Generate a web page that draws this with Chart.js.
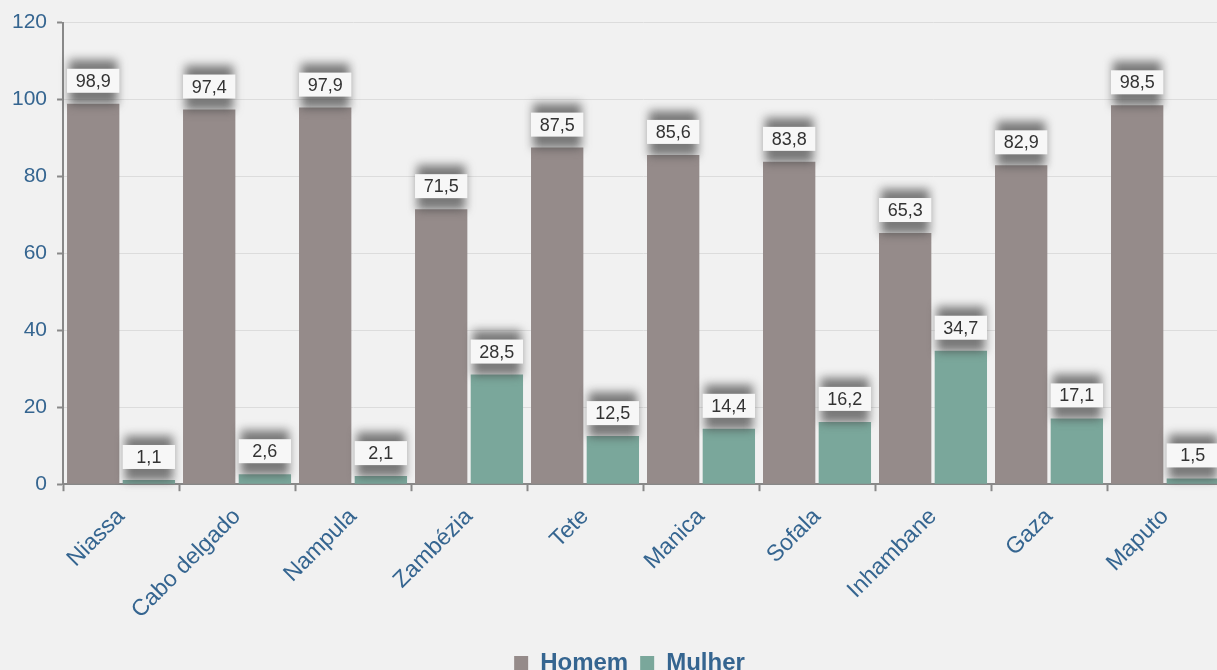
<!DOCTYPE html>
<html>
<head>
<meta charset="utf-8">
<script src="https://cdn.jsdelivr.net/npm/chart.js@4"></script>
<style>
  html, body { margin: 0; padding: 0; background: #f1f1f1; overflow: hidden; }
  #wrap { width: 1256px; height: 685px; }
</style>
</head>
<body>
<div id="wrap"><canvas id="grafico"></canvas></div>
<script>
const provincias = ["Niassa", "Cabo delgado", "Nampula", "Zambézia", "Tete", "Manica", "Sofala", "Inhambane", "Gaza", "Maputo"];
const homem = [98.9, 97.4, 97.9, 71.5, 87.5, 85.6, 83.8, 65.3, 82.9, 98.5];
const mulher = [1.1, 2.6, 2.1, 28.5, 12.5, 14.4, 16.2, 34.7, 17.1, 1.5];

const AZUL = "#356590";
const FONTE = "'Liberation Sans', Arial";

// caixas com valores por cima das barras
const etiquetas = {
  id: "etiquetas",
  afterLayout(chart) {
    // legenda um pouco mais à direita, como no original
    chart.legend.left += 17;
    chart.legend.right += 17;
  },
  afterDatasetsDraw(chart) {
    const ctx = chart.ctx;
    chart.data.datasets.forEach((ds, i) => {
      chart.getDatasetMeta(i).data.forEach((bar, j) => {
        const w = bar.width, h = 24;
        const x = bar.x - w / 2, y = bar.y - 11 - h;
        // sombra desfocada
        ctx.save();
        ctx.filter = "blur(5px)";
        ctx.fillStyle = "rgba(70,70,70,0.7)";
        ctx.fillRect(x + 2, y - 9, w - 4, bar.y - y + 10);
        ctx.restore();
        ctx.fillStyle = "#f7f7f7";
        ctx.fillRect(x, y, w, h);
        ctx.fillStyle = "#333";
        ctx.font = "18px " + FONTE;
        ctx.textAlign = "center";
        ctx.textBaseline = "middle";
        ctx.fillText(ds.data[j].toFixed(1).replace(".", ","), bar.x, y + h / 2 + 1);
      });
    });
  }
};

new Chart(document.getElementById("grafico"), {
  type: "bar",
  data: {
    labels: provincias,
    datasets: [
      { label: "Homem", data: homem, backgroundColor: "#958b8a" },
      { label: "Mulher", data: mulher, backgroundColor: "#7aa79b" }
    ]
  },
  options: {
    responsive: true,
    maintainAspectRatio: false,
    animation: false,
    datasets: { bar: { categoryPercentage: 0.96, barPercentage: 0.94 } },
    layout: { padding: { top: 13, left: 2, right: 33, bottom: 0 } },
    plugins: {
      legend: {
        position: "bottom",
        labels: {
          color: AZUL,
          font: { family: FONTE, size: 24, weight: "bold" },
          boxWidth: 14, boxHeight: 14, padding: 12
        }
      },
      tooltip: { enabled: false }
    },
    scales: {
      x: {
        afterFit: s => { s.height += 3; },
        grid: { drawOnChartArea: false, tickLength: 7, tickColor: "#888", tickWidth: 2 },
        border: { color: "#888", width: 2 },
        ticks: {
          color: AZUL, maxRotation: 45, minRotation: 45, padding: 12,
          font: { family: FONTE, size: 23 }
        }
      },
      y: {
        min: 0, max: 120,
        ticks: {
          stepSize: 20, color: AZUL, padding: 10,
          font: { family: FONTE, size: 21 }
        },
        grid: { color: "#dcdcdc", tickLength: 6, tickColor: "#888", tickWidth: 2 },
        border: { color: "#888", width: 2 }
      }
    }
  },
  plugins: [etiquetas]
});
</script>
</body>
</html>
